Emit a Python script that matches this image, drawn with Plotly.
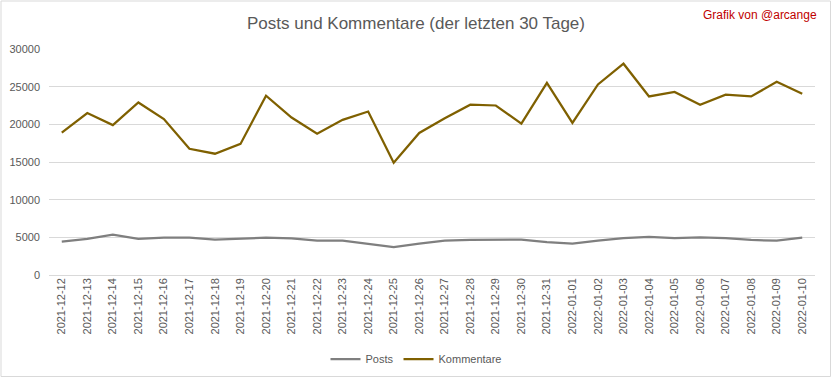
import plotly.graph_objects as go

dates = ["2021-12-12","2021-12-13","2021-12-14","2021-12-15","2021-12-16","2021-12-17","2021-12-18",
         "2021-12-19","2021-12-20","2021-12-21","2021-12-22","2021-12-23","2021-12-24","2021-12-25",
         "2021-12-26","2021-12-27","2021-12-28","2021-12-29","2021-12-30","2021-12-31","2022-01-01",
         "2022-01-02","2022-01-03","2022-01-04","2022-01-05","2022-01-06","2022-01-07","2022-01-08",
         "2022-01-09","2022-01-10"]

posts = [4425, 4800, 5350, 4800, 4950, 4950, 4700, 4800, 4950, 4850, 4550, 4550, 4150, 3700,
         4150, 4550, 4650, 4650, 4700, 4350, 4150, 4550, 4900, 5050, 4900, 5000, 4900, 4650,
         4550, 4950]

kommentare = [18900, 21500, 19900, 22900, 20700, 16750, 16100, 17400, 23800, 20900, 18750, 20600,
              21700, 14900, 18850, 20800, 22600, 22500, 20100, 25500, 20200, 25300, 28050, 23700,
              24300, 22600, 23950, 23700, 25650, 24050]

y_ticks = [0, 5000, 10000, 15000, 20000, 25000, 30000]
y_labels = ["0", "5000", "10000", "15000", "20000", "25000", "30000"]

FONT = "Liberation Sans, Arial, sans-serif"

fig = go.Figure()
fig.add_trace(go.Scatter(x=dates, y=posts, mode="lines", name="Posts",
                         line=dict(color="#7f7f7f", width=2.25)))
fig.add_trace(go.Scatter(x=dates, y=kommentare, mode="lines", name="Kommentare",
                         line=dict(color="#7f6000", width=2.25)))

W, H = 832, 378
ml, mr, mt, mb = 49, 17, 49, 103
pw, ph = W - ml - mr, H - mt - mb

fig.update_layout(
    width=W, height=H,
    margin=dict(l=ml, r=mr, t=mt, b=mb, autoexpand=False),
    paper_bgcolor="white", plot_bgcolor="white",
    font=dict(family=FONT, color="#595959", size=11),
    title=dict(text="Posts und Kommentare (der letzten 30 Tage)",
               x=0.5, xref="container", xanchor="center", y=1 - 23 / H, yanchor="middle",
               font=dict(family=FONT, size=17, color="#595959")),
    xaxis=dict(type="category", tickangle=-90, showgrid=False, showline=False, automargin=False,
               ticks="", tickfont=dict(size=11, color="#595959"), range=[-0.5, len(dates) - 0.5]),
    yaxis=dict(range=[0, 30000], tickvals=y_ticks, ticktext=y_labels, showgrid=True,
               gridcolor="#d9d9d9", gridwidth=1, zeroline=True, zerolinecolor="#d9d9d9",
               zerolinewidth=1, ticks="", tickfont=dict(size=11, color="#595959"),
               ticklabelstandoff=8, automargin=False),
    legend=dict(orientation="h", x=0.5, xref="container", xanchor="center", yref="container",
                y=1 - 359 / H, yanchor="middle",
                font=dict(size=11, color="#595959"), itemwidth=30),
    showlegend=True,
    annotations=[dict(text="Grafik von @arcange", xref="paper", yref="paper",
                      x=(819 - ml) / pw, y=1 + (mt - 15) / ph,
                      xanchor="right", yanchor="middle", showarrow=False,
                      font=dict(family=FONT, size=12, color="#c00000"))],
    shapes=[dict(type="rect", xref="paper", yref="paper",
                 x0=-(ml - 1) / pw, x1=1 + (mr - 1.5) / pw,
                 y0=-(mb - 1.5) / ph, y1=1 + (mt - 1) / ph,
                 line=dict(color="#d9d9d9", width=1), fillcolor="rgba(0,0,0,0)", layer="below")],
)

fig.write_html("out.html", config={"displayModeBar": False},
               post_script="document.body.style.margin='0';")
